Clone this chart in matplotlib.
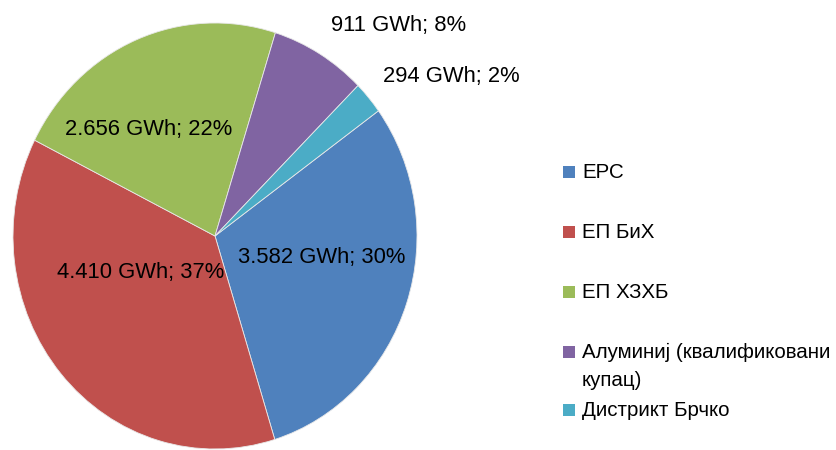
import numpy as np
import matplotlib
matplotlib.use("Agg")
import matplotlib.pyplot as plt
from matplotlib.patches import Rectangle

plt.rcParams['font.family'] = ['Liberation Sans', 'DejaVu Sans']

names = ['ЕРС', 'ЕП БиХ', 'ЕП ХЗХБ', 'Алуминиј (квалификовани\nкупац)', 'Дистрикт Брчко']
gwh = [3582, 4410, 2656, 911, 294]
colors = ['#4F81BD', '#C0504D', '#9BBB59', '#8064A2', '#4BACC6']

# label spots in pie units (radius 1)
label_pos = [(0.53, -0.10), (-0.37, -0.17), (-0.33, 0.50), (0.91, 0.99), (1.17, 0.75)]

fig = plt.figure(figsize=(8.37, 4.5), dpi=100)
# pie box is a bit taller than wide, like the source
ax = fig.add_axes([13/837, 1/450, 404/837, 426/450])
ax.pie(gwh, colors=colors, startangle=36, counterclock=False, radius=1,
       wedgeprops=dict(edgecolor='#e8e8e8', linewidth=0.6))
ax.set_xlim(-1, 1)
ax.set_ylim(-1, 1)
ax.set_aspect('auto')
ax.axis('off')

total = sum(gwh)
for v, (x, y) in zip(gwh, label_pos):
    txt = f"{v:,} GWh; {round(100*v/total)}%".replace(',', '.')
    ax.text(x, y, txt, ha='center', va='center', fontsize=15.8, color='black', clip_on=False)

# legend drawn by hand (Excel style)
leg_y = [172, 232, 292, 352, 410]
for name, c, y in zip(names, colors, leg_y):
    fig.patches.append(Rectangle((563/837, 1 - (y + 6)/450), 12/837, 12/450,
                                 transform=fig.transFigure, facecolor=c, edgecolor='none'))
    lines = name.split('\n')
    for k, ln in enumerate(lines):
        fig.text(582/837, 1 - (y + 28*k)/450, ln, ha='left', va='center', fontsize=14.8)

fig.savefig('out.png', dpi=100)
